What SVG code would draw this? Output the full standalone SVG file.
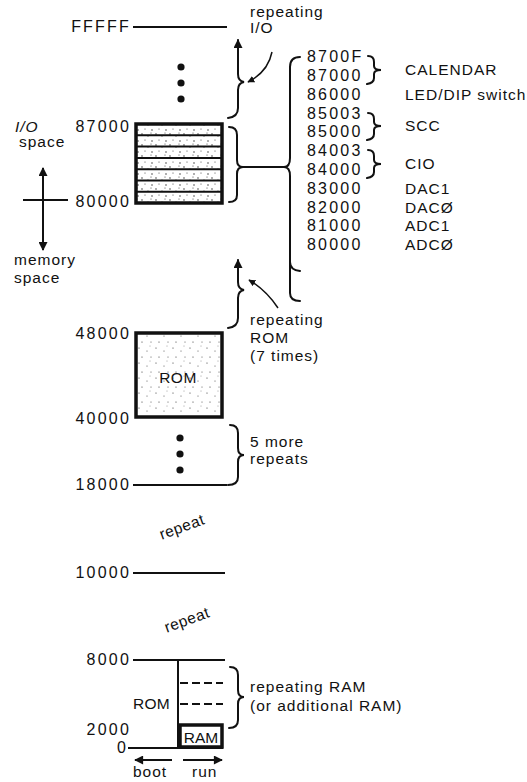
<svg xmlns="http://www.w3.org/2000/svg" width="527" height="782" viewBox="0 0 527 782">
<style>
text{font-family:"Liberation Sans",Arial,sans-serif;font-size:15.5px;fill:#111;letter-spacing:1px}
.num{font-size:16px;letter-spacing:2.2px}
.rnum{font-size:16px;letter-spacing:2.2px;text-anchor:end}
.ln{stroke:#111;stroke-width:2;fill:none}
.thin{stroke:#111;stroke-width:1.5;fill:none}
.br{stroke:#111;stroke-width:2;fill:none;stroke-linecap:round}
.box{stroke:#111;stroke-width:3.5}
.dot{fill:#111}
</style>
<defs>
<pattern id="stip" width="14" height="11" patternUnits="userSpaceOnUse">
<rect width="14" height="11" fill="#fff"/>
<circle cx="2" cy="2" r="0.7" fill="#222"/><circle cx="8" cy="4" r="0.6" fill="#222"/><circle cx="12" cy="9" r="0.7" fill="#222"/><circle cx="5" cy="8" r="0.5" fill="#222"/><circle cx="11" cy="1" r="0.5" fill="#222"/>
</pattern>
<pattern id="stip2" width="17" height="15" patternUnits="userSpaceOnUse">
<rect width="17" height="15" fill="#fff"/>
<circle cx="3" cy="3" r="0.6" fill="#333"/><circle cx="11" cy="6" r="0.5" fill="#333"/><circle cx="6" cy="12" r="0.6" fill="#333"/><circle cx="15" cy="12" r="0.5" fill="#333"/><circle cx="14" cy="1" r="0.4" fill="#333"/>
</pattern>
<marker id="ah" viewBox="0 0 10 10" refX="9" refY="5" markerWidth="7" markerHeight="7" orient="auto" markerUnits="userSpaceOnUse">
<path d="M0,0 L10,5 L0,10 z" fill="#111"/>
</marker>
<marker id="ahb" viewBox="0 0 10 10" refX="9" refY="5" markerWidth="11" markerHeight="9" orient="auto" markerUnits="userSpaceOnUse">
<path d="M0,0 L10,5 L0,10 z" fill="#111"/>
</marker>
</defs>

<g id="connectors">
<path class="br" d="M228,118 Q238,117 238,108 L238,90 Q238,83 244,82 Q238,81 238,74 L238,40" marker-end="url(#ahb)"/>
<path class="thin" d="M272,52 Q268,72 248,82" marker-end="url(#ah)"/>
<path class="br" d="M229,127 Q237,127 237,135 L237,160 Q237,167 243,167 Q237,167 237,174 L237,195 Q237,202 229,202"/>
<path class="ln" d="M243,167 L285,167"/>
<path class="br" d="M300,57 Q290,57 290,67 L290,158 Q290,167 284,167 Q290,167 290,176 L290,293 Q290,301 300,301"/>
<path class="br" d="M290,262 Q290,270 300,271"/>
<path class="br" d="M368,56 Q374,56 374,62 L374,66 Q374,70 381,70 Q374,70 374,74 L374,78 Q374,83 367,84"/>
<path class="br" d="M368,113 Q374,113 374,119 L374,122 Q374,126 381,126 Q374,126 374,130 L374,134 Q374,139 367,140"/>
<path class="br" d="M368,150 Q374,150 374,156 L374,160 Q374,164 381,164 Q374,164 374,168 L374,172 Q374,177 367,178"/>
<path class="br" d="M228,328 Q238,327 238,318 L238,298 Q238,291 244,290 Q238,289 238,282 L238,260" marker-end="url(#ahb)"/>
<path class="thin" d="M278,308 Q266,290 249,280" marker-end="url(#ah)"/>
<path class="br" d="M230,425 Q238,425 238,433 L238,448 Q238,455 244,455 Q238,455 238,462 L238,477 Q238,485 228,485"/>
<path class="br" d="M230,667 Q238,667 238,675 L238,690 Q238,697 244,697 Q238,697 238,704 L238,720 Q238,728 229,728"/>
<path class="ln" d="M43,200 L43,168" marker-end="url(#ahb)"/>
<path class="ln" d="M43,200 L43,250" marker-end="url(#ahb)"/>
<path class="ln" d="M23,200 L68,200"/>
<path class="ln" stroke-width="2.5" d="M172,760 L135,760" marker-end="url(#ahb)"/>
<path class="ln" stroke-width="2.5" d="M183,760 L222,760" marker-end="url(#ahb)"/>
</g>

<g id="top">
<text class="rnum" x="131" y="32">FFFFF</text>
<path class="ln" d="M133,27 L227,27"/>
<circle class="dot" cx="181" cy="67" r="3.6"/><circle class="dot" cx="181" cy="83" r="3.6"/><circle class="dot" cx="181" cy="99" r="3.6"/>
<text x="250" y="17">repeating</text>
<text x="250" y="33">I/O</text>
</g>

<g id="io-block">
<rect x="136" y="124" width="86" height="79" fill="url(#stip)" class="box"/>
<path stroke="#111" stroke-width="2" d="M137,135.3 H221 M137,146.6 H221 M137,157.9 H221 M137,169.2 H221 M137,180.5 H221 M137,191.8 H221"/>
<text class="rnum" x="131" y="132">87000</text>
<text class="rnum" x="131" y="207">80000</text>
</g>

<g id="space-labels">
<text x="15" y="132" font-style="italic">I/O</text>
<text x="19" y="147">space</text>
<text x="14" y="265">memory</text>
<text x="14" y="283">space</text>
</g>

<g id="io-list">
<text class="num" x="307" y="62">8700F</text>
<text class="num" x="307" y="81">87000</text>
<text class="num" x="307" y="100">86000</text>
<text class="num" x="307" y="118.5">85003</text>
<text class="num" x="307" y="137">85000</text>
<text class="num" x="307" y="156">84003</text>
<text class="num" x="307" y="175">84000</text>
<text class="num" x="307" y="193.5">83000</text>
<text class="num" x="307" y="212.5">82000</text>
<text class="num" x="307" y="231">81000</text>
<text class="num" x="307" y="250">80000</text>
<text x="405" y="75">CALENDAR</text>
<text x="405" y="100">LED/DIP switch</text>
<text x="405" y="131">SCC</text>
<text x="405" y="169">CIO</text>
<text x="405" y="193.5">DAC1</text>
<text x="405" y="212.5">DACØ</text>
<text x="405" y="231">ADC1</text>
<text x="405" y="250">ADCØ</text>
</g>

<g id="rom-block">
<text x="250" y="325">repeating</text>
<text x="250" y="343">ROM</text>
<text x="250" y="361">(7 times)</text>
<rect x="136" y="333" width="86" height="84" fill="url(#stip2)" class="box"/>
<text x="178" y="383" text-anchor="middle" style="letter-spacing:0.5px">ROM</text>
<text class="rnum" x="131" y="339">48000</text>
<text class="rnum" x="131" y="424">40000</text>
</g>

<g id="repeats">
<circle class="dot" cx="180" cy="438" r="3.6"/><circle class="dot" cx="180" cy="454" r="3.6"/><circle class="dot" cx="180" cy="470" r="3.6"/>
<text x="250" y="447">5 more</text>
<text x="250" y="464">repeats</text>
<text class="rnum" x="131" y="490">18000</text>
<path class="ln" d="M133,485 L227,485"/>
<text x="182" y="532" text-anchor="middle" transform="rotate(-20 182 527)" style="letter-spacing:0.5px">repeat</text>
<text class="rnum" x="131" y="578">10000</text>
<path class="ln" d="M133,573 L225,573"/>
<text x="187" y="625" text-anchor="middle" transform="rotate(-20 187 620)" style="letter-spacing:0.5px">repeat</text>
</g>

<g id="low-memory">
<text class="rnum" x="131" y="665">8000</text>
<path class="ln" d="M133,660 L225,660"/>
<path class="ln" d="M178,660 L178,748"/>
<path class="ln" stroke-dasharray="8,4" d="M180,683 L223,683 M180,704 L223,704"/>
<text x="133" y="709" style="letter-spacing:0.3px">ROM</text>
<rect x="180" y="725" width="42" height="22" fill="#fff" class="box"/>
<text x="201" y="743" text-anchor="middle" style="letter-spacing:0px">RAM</text>
<text class="rnum" x="131" y="735">2000</text>
<text class="rnum" x="128" y="753">0</text>
<path class="ln" d="M128,748 L223,748"/>
<text x="250" y="692">repeating RAM</text>
<text x="250" y="711">(or additional RAM)</text>
<text x="133" y="777">boot</text>
<text x="192" y="777">run</text>
</g>
</svg>
